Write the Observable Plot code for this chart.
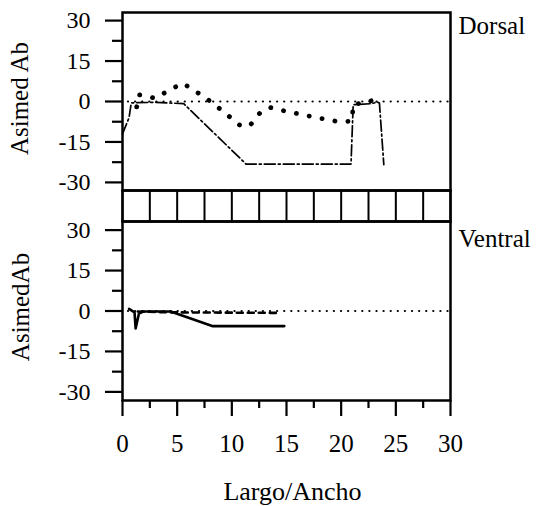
<!DOCTYPE html>
<html>
<head>
<meta charset="utf-8">
<script src="https://cdn.jsdelivr.net/npm/d3@7"></script>
<script src="https://cdn.jsdelivr.net/npm/@observablehq/plot@0.6"></script>
<style>
  html, body { margin: 0; padding: 0; background: #fff; }
  #chart { position: relative; width: 541px; height: 506px; background: #fff; }
  #chart svg { position: absolute; left: 0; }
</style>
</head>
<body>
<div id="chart"></div>
<script>
// ---- Tick values ----
const xTicks = [0, 5, 10, 15, 20, 25, 30];
const xMinor = [2.5, 7.5, 12.5, 17.5, 22.5, 27.5];
const yTicks = [-30, -15, 0, 15, 30];
const yMinor = [-22.5, -7.5, 7.5, 22.5];
const stripEdges = [0, 2.5, 5, 7.5, 10, 12.5, 15, 17.5, 20, 22.5, 25, 27.5, 30];

// ---- Labels ----
const panelNames = ["Dorsal", "Ventral"];
const yTitles = ["Asimed Ab", "AsimedAb"];
const xTitle = "Largo/Ancho";

// ---- Dorsal series [Largo/Ancho, Asimed Ab] ----
const zeroRef = [[0.5, 0], [30, 0]];
const dorsalDashDot = [[0, -12], [0.6, -6], [0.8, -0.5], [3, -0.3], [5.6, -0.8], [11.3, -23.2], [20.9, -23.2], [21.1, -1.2], [22.8, -0.8], [23.3, -0.2], [23.5, -0.6], [23.9, -23.4]];
const dorsalDotted = [[1.3, -2], [1.5, 2.5], [3, 1.2], [4.2, 4], [5.5, 6.8], [6.8, 3.5], [8.2, -0.4], [9.5, -4.7], [10.7, -8.7], [11.6, -9.2], [12.6, -4.1], [13.5, -2.2], [14.8, -3.5], [16, -4.5], [17.3, -5.6], [18.6, -6.6], [19.9, -7.6], [21, -7.2], [21.1, -1], [22.4, -0.4], [23.6, 1.9]];

// ---- Ventral series ----
const ventralSolid = [[0.6, 0.8], [1.1, -0.5], [1.2, -6.5], [1.5, -1], [1.9, -0.2], [4.4, -0.2], [8.2, -5.6], [14.8, -5.6]];
const ventralDashed = [[1.4, -0.2], [4.4, -0.5], [14.3, -0.7]];

const FONT = "'Liberation Serif', 'Times New Roman', Times, serif";
const style = { fontFamily: FONT, background: "transparent", overflow: "visible", color: "black" };
const X = d => d[0], Y = d => d[1];
const fmt = d => String(d);

function yAxes() {
  return [
    Plot.axisY(yTicks, { tickSize: 17, tickPadding: 15, fontSize: 24, strokeWidth: 2.2, tickFormat: fmt, label: null }),
    Plot.axisY(yMinor, { tickSize: 10, strokeWidth: 2.2, text: null, label: null })
  ];
}
function zeroLine() {
  return Plot.line(zeroRef, { x: X, y: Y, stroke: "black", strokeWidth: 2.2, strokeDasharray: "0.1,7", strokeLinecap: "round" });
}

const topPanel = Plot.plot({
  width: 541, height: 190,
  marginLeft: 122, marginRight: 91, marginTop: 12, marginBottom: 0,
  style,
  x: { domain: [0, 30], axis: null },
  y: { domain: [-33, 33] },
  marks: [
    ...yAxes(),
    zeroLine(),
    Plot.line(dorsalDashDot, { x: X, y: Y, stroke: "black", strokeWidth: 1.7, strokeDasharray: "11,3,2,3" }),
    Plot.line(dorsalDotted, { x: X, y: Y, stroke: "black", strokeWidth: 4.8, strokeDasharray: "0.1,13", strokeLinecap: "round" }),
    Plot.frame({ stroke: "black", strokeWidth: 2.5 }),
    Plot.text([panelNames[0]], { text: d => d, frameAnchor: "top-right", textAnchor: "start", lineAnchor: "bottom", dx: 8, dy: 21, fontSize: 25 }),
    Plot.text([yTitles[0]], { text: d => d, frameAnchor: "left", textAnchor: "middle", rotate: -90, dx: -103, dy: -3, fontSize: 25 })
  ]
});
topPanel.style.top = "0px";

const stripPanel = Plot.plot({
  width: 541, height: 31,
  marginLeft: 122, marginRight: 91, marginTop: 0, marginBottom: 0,
  style,
  x: { domain: [0, 30], axis: null },
  marks: [
    Plot.ruleX(stripEdges, { stroke: "black", strokeWidth: 2 }),
    Plot.frame({ stroke: "black", strokeWidth: 2.5 })
  ]
});
stripPanel.style.top = "190px";

const bottomPanel = Plot.plot({
  width: 541, height: 285,
  marginLeft: 122, marginRight: 91, marginTop: 0, marginBottom: 106,
  style,
  x: { domain: [0, 30] },
  y: { domain: [-33.2, 33.2] },
  marks: [
    ...yAxes(),
    Plot.axisX(xTicks, { tickSize: 16, tickPadding: 18, fontSize: 25, strokeWidth: 2.2, tickFormat: fmt, label: null }),
    Plot.axisX(xMinor, { tickSize: 8, strokeWidth: 2.2, text: null, label: null }),
    zeroLine(),
    Plot.line(ventralDashed, { x: X, y: Y, stroke: "black", strokeWidth: 2.6, strokeDasharray: "6,5" }),
    Plot.line(ventralSolid, { x: X, y: Y, stroke: "black", strokeWidth: 2.6 }),
    Plot.frame({ stroke: "black", strokeWidth: 2.5 }),
    Plot.text([panelNames[1]], { text: d => d, frameAnchor: "top-right", textAnchor: "start", lineAnchor: "bottom", dx: 8, dy: 25, fontSize: 25 }),
    Plot.text([yTitles[1]], { text: d => d, frameAnchor: "left", textAnchor: "middle", rotate: -90, dx: -102, dy: -4, fontSize: 25 }),
    Plot.text([xTitle], { text: d => d, frameAnchor: "bottom", textAnchor: "middle", lineAnchor: "bottom", dx: 6, dy: 99, fontSize: 26 })
  ]
});
bottomPanel.style.top = "221px";

const chart = document.getElementById("chart");
chart.append(topPanel, stripPanel, bottomPanel);
</script>
</body>
</html>
